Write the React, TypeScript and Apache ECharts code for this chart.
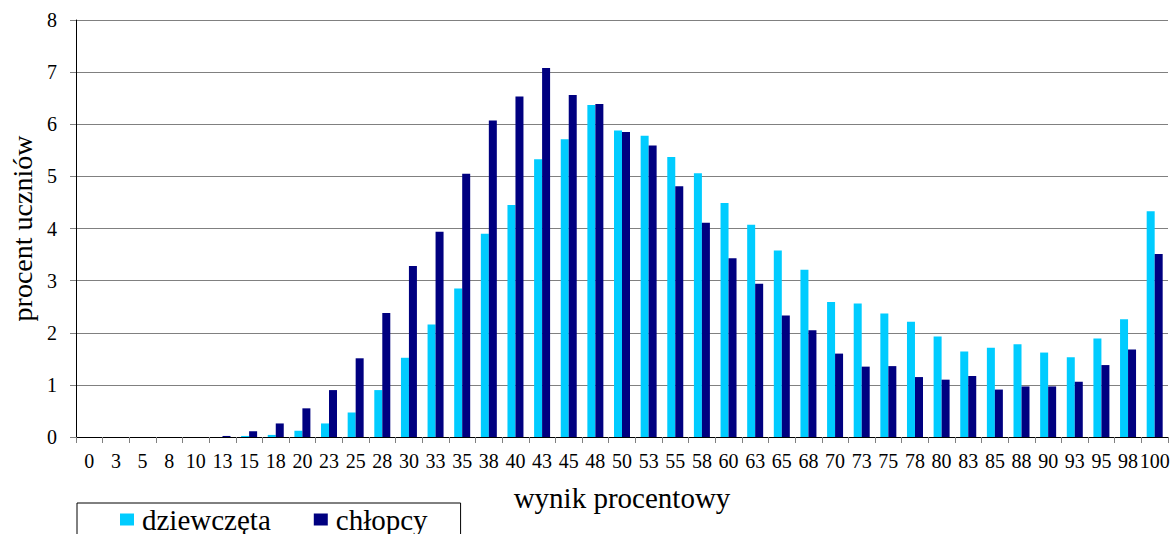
import React, { useEffect, useRef } from "react";
import * as echarts from "echarts";

const categories = ["0","3","5","8","10","13","15","18","20","23","25","28","30","33","35","38","40","43","45","48","50","53","55","58","60","63","65","68","70","73","75","78","80","83","85","88","90","93","95","98","100"];
const girls = [0,0,0,0,0,0,0.02,0.04,0.12,0.26,0.47,0.9,1.52,2.16,2.85,3.9,4.45,5.33,5.71,6.37,5.88,5.78,5.37,5.06,4.49,4.07,3.58,3.21,2.59,2.56,2.37,2.21,1.93,1.64,1.71,1.78,1.62,1.53,1.89,2.26,4.33];
const boys = [0,0,0,0,0,0.02,0.11,0.26,0.55,0.9,1.51,2.38,3.28,3.94,5.05,6.07,6.53,7.08,6.56,6.39,5.85,5.59,4.81,4.11,3.43,2.94,2.33,2.05,1.6,1.35,1.36,1.15,1.1,1.17,0.91,0.97,0.97,1.06,1.38,1.68,3.51];
const seriesNames = ["dziewczęta", "chłopcy"];
const yTicks = { min: 0, max: 8, interval: 1 };

const FONT = "'Liberation Serif', 'Times New Roman', serif";

export default function App() {
  const ref = useRef<HTMLDivElement>(null);
  useEffect(() => {
    if (!ref.current) return;
    const chart = echarts.init(ref.current, null, { renderer: "svg" });
    chart.setOption({
      animation: false,
      backgroundColor: "#ffffff",
      textStyle: { fontFamily: FONT, color: "#000" },
      grid: { left: 73, right: 5, top: 20, bottom: 97, containLabel: false },
      legend: {
        left: 77,
        top: 503,
        orient: "horizontal",
        data: seriesNames,
        icon: "rect",
        itemWidth: 14,
        itemHeight: 12,
        itemGap: 43,
        padding: [2, 33, 12, 43],
        borderColor: "#000",
        borderWidth: 1,
        textStyle: { fontFamily: FONT, fontSize: 29, lineHeight: 29, color: "#000", padding: [0, 0, 0, 3] },
      },
      xAxis: {
        type: "category",
        data: categories,
        boundaryGap: true,
        name: "wynik procentowy",
        nameLocation: "middle",
        nameGap: 46,
        nameTextStyle: { fontFamily: FONT, fontSize: 29, color: "#000" },
        axisLine: { lineStyle: { color: "#000", width: 1 } },
        axisTick: { show: true, interval: 0, length: 6, lineStyle: { color: "#808080" } },
        axisLabel: { interval: 0, fontFamily: FONT, fontSize: 20, color: "#000", margin: 14 },
        splitLine: { show: false },
      },
      yAxis: {
        type: "value",
        min: yTicks.min,
        max: yTicks.max,
        interval: yTicks.interval,
        name: "procent uczniów",
        nameLocation: "middle",
        nameGap: 40,
        nameTextStyle: { fontFamily: FONT, fontSize: 28, color: "#000" },
        axisLine: { show: true, lineStyle: { color: "#000", width: 1 } },
        axisTick: { show: true, length: 6, lineStyle: { color: "#808080" } },
        axisLabel: { fontFamily: FONT, fontSize: 20, color: "#000", margin: 19 },
        splitLine: { show: true, lineStyle: { color: "#808080", width: 1 } },
      },
      series: [
        {
          name: seriesNames[0],
          type: "bar",
          data: girls,
          barWidth: 8,
          barGap: "0%",
          itemStyle: { color: "#00CCFF" },
        },
        {
          name: seriesNames[1],
          type: "bar",
          data: boys,
          barWidth: 8,
          barGap: "0%",
          itemStyle: { color: "#000080" },
        },
      ],
    });
    return () => chart.dispose();
  }, []);
  return (
    <div
      ref={ref}
      style={{ position: "fixed", left: 0, top: 0, width: 1173, height: 534, background: "#fff" }}
    />
  );
}
